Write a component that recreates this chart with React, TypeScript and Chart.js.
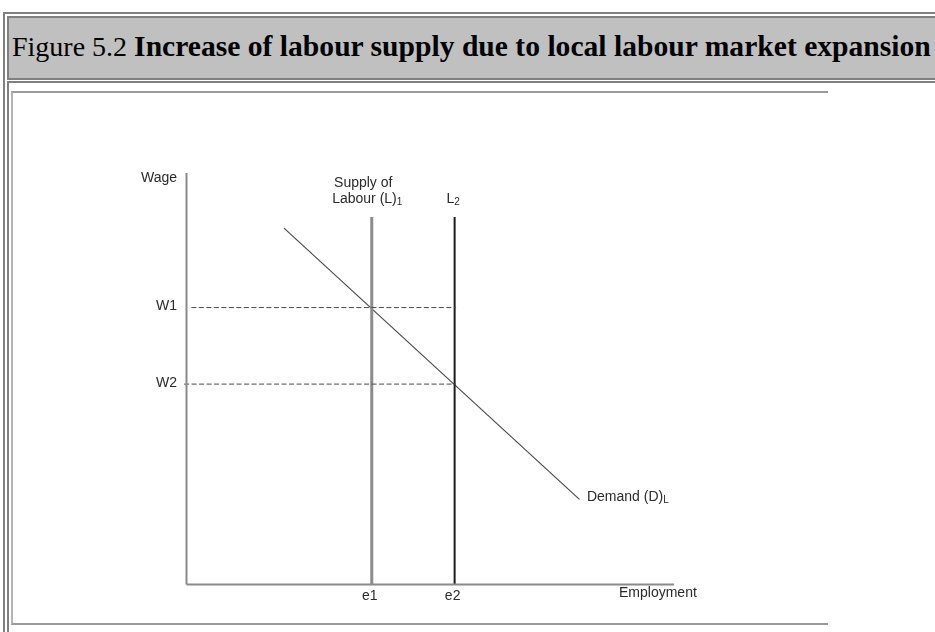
import React, { useEffect, useRef } from 'react';
import { Chart, registerables } from 'chart.js';

Chart.register(...registerables);

// ---- text ----
const TITLE_PREFIX = 'Figure 5.2 ';
const TITLE_BOLD = 'Increase of labour supply due to local labour market expansion';
const Y_AXIS_NAME = 'Wage';
const X_AXIS_NAME = 'Employment';
const SUPPLY_1_LINES = ['Supply of', 'Labour (L)'];
const SUPPLY_1_SUB = '1';
const SUPPLY_2_MAIN = 'L';
const SUPPLY_2_SUB = '2';
const DEMAND_MAIN = 'Demand (D)';
const DEMAND_SUB = 'L';

// ---- data (abstract units, axes run 0..100) ----
const axisRange = [0, 100];
const wageLabels = ['W1', 'W2'];
const wageLevels = [67.3, 48.7];
const wageDashStart = [1, -0.5];
const employmentLabels = ['e1', 'e2'];
const employmentLevels = [38, 55];
const supplyTop = 89.3;
const demandX = [20, 80.6];
const demandY = [86.6, 20.7];

const FONT = '"Liberation Sans", Arial, Helvetica, sans-serif';
const TEXT_COLOR = '#2a2a2a';

function drawWithSub(
  ctx: CanvasRenderingContext2D,
  main: string,
  sub: string,
  x: number,
  y: number,
  align: 'left' | 'center' | 'right'
) {
  ctx.font = `14px ${FONT}`;
  const wm = ctx.measureText(main).width;
  ctx.font = `10px ${FONT}`;
  const ws = ctx.measureText(sub).width;
  const total = wm + ws;
  let sx = x;
  if (align === 'center') sx = x - total / 2;
  if (align === 'right') sx = x - total;
  ctx.textAlign = 'left';
  ctx.font = `14px ${FONT}`;
  ctx.fillText(main, sx, y);
  ctx.font = `10px ${FONT}`;
  ctx.fillText(sub, sx + wm, y + 3);
}

const labelPlugin = {
  id: 'economicsLabels',
  afterDatasetsDraw(chart: any) {
    const ctx: CanvasRenderingContext2D = chart.ctx;
    const xs = chart.scales.x;
    const ys = chart.scales.y;
    const x0 = xs.getPixelForValue(axisRange[0]);
    const y0 = ys.getPixelForValue(axisRange[0]);
    const xEnd = xs.getPixelForValue(axisRange[1]);
    const yTop = ys.getPixelForValue(axisRange[1]);
    const pTop = ys.getPixelForValue(supplyTop);
    ctx.save();
    ctx.fillStyle = TEXT_COLOR;
    ctx.textBaseline = 'middle';
    ctx.font = `14px ${FONT}`;

    // y axis name
    ctx.textAlign = 'right';
    ctx.fillText(Y_AXIS_NAME, x0 - 9.5, yTop + 5);

    // wage levels
    wageLevels.forEach((w, i) => {
      ctx.textAlign = 'right';
      ctx.font = `14px ${FONT}`;
      ctx.fillText(wageLabels[i], x0 - 9.5, ys.getPixelForValue(w) - 1);
    });

    // employment levels
    employmentLevels.forEach((e, i) => {
      ctx.textAlign = 'center';
      ctx.font = `14px ${FONT}`;
      ctx.fillText(employmentLabels[i], xs.getPixelForValue(e) - 2, y0 + 11.5);
    });

    // x axis name
    ctx.textAlign = 'left';
    ctx.font = `14px ${FONT}`;
    ctx.fillText(X_AXIS_NAME, xEnd - 55, y0 + 8.5);

    // supply labels
    const pL1 = xs.getPixelForValue(employmentLevels[0]);
    const pL2 = xs.getPixelForValue(employmentLevels[1]);
    ctx.textAlign = 'center';
    ctx.fillText(SUPPLY_1_LINES[0], pL1 - 8.5, pTop - 34);
    drawWithSub(ctx, SUPPLY_1_LINES[1], SUPPLY_1_SUB, pL1 - 4.5, pTop - 18, 'center');
    drawWithSub(ctx, SUPPLY_2_MAIN, SUPPLY_2_SUB, pL2 - 1.5, pTop - 18, 'center');

    // demand label
    const dEx = xs.getPixelForValue(demandX[demandX.length - 1]);
    const dEy = ys.getPixelForValue(demandY[demandY.length - 1]);
    drawWithSub(ctx, DEMAND_MAIN, DEMAND_SUB, dEx + 7.5, dEy - 2.5, 'left');

    ctx.restore();
  },
};

function ChartCanvas() {
  const ref = useRef<HTMLCanvasElement | null>(null);
  useEffect(() => {
    if (!ref.current) return;
    const seg = (a: [number, number], b: [number, number]) => [
      { x: a[0], y: a[1] },
      { x: b[0], y: b[1] },
    ];
    const base = { showLine: true, pointRadius: 0, pointHoverRadius: 0, fill: false, clip: false as any, tension: 0 };
    const datasets: any[] = [
      // axes
      { ...base, label: 'y axis', data: seg([axisRange[0], axisRange[0]], [axisRange[0], axisRange[1]]), borderColor: '#8a8a8a', borderWidth: 2 },
      { ...base, label: 'x axis', data: seg([axisRange[0], axisRange[0]], [axisRange[1], axisRange[0]]), borderColor: '#8a8a8a', borderWidth: 2 },
      // wage dashed lines
      ...wageLevels.map((w, i) => ({
        ...base,
        label: wageLabels[i],
        data: seg([wageDashStart[i], w], [employmentLevels[1] + 0.3, w]),
        borderColor: '#4a4a4a',
        borderWidth: 1,
        borderDash: [5, 2.5],
      })),
      // supply L1
      { ...base, label: 'Supply L1', data: seg([employmentLevels[0], axisRange[0]], [employmentLevels[0], supplyTop]), borderColor: '#8c8c8c', borderWidth: 3 },
      // supply L2
      { ...base, label: 'Supply L2', data: seg([employmentLevels[1], axisRange[0]], [employmentLevels[1], supplyTop]), borderColor: '#1e1e1e', borderWidth: 2 },
      // demand
      { ...base, label: 'Demand', data: demandX.map((x, i) => ({ x, y: demandY[i] })), borderColor: '#444', borderWidth: 1.1 },
    ];
    const chart = new Chart(ref.current, {
      type: 'scatter',
      data: { datasets },
      options: {
        responsive: false,
        animation: false,
        devicePixelRatio: 1,
        layout: { padding: { left: 173.5, top: 80, right: 154, bottom: 38.5 } },
        scales: {
          x: { type: 'linear', min: axisRange[0], max: axisRange[1], display: false },
          y: { type: 'linear', min: axisRange[0], max: axisRange[1], display: false },
        },
        plugins: { legend: { display: false }, tooltip: { enabled: false }, title: { display: false } },
        events: [],
      } as any,
      plugins: [labelPlugin],
    });
    return () => chart.destroy();
  }, []);
  return (
    <canvas
      ref={ref}
      width={815}
      height={530}
      style={{ position: 'absolute', left: 13, top: 93, width: 815, height: 530, display: 'block' }}
    />
  );
}

export default function App() {
  const grey = '#808080';
  return (
    <div style={{ position: 'absolute', left: 0, top: 0, width: 935, height: 632, overflow: 'hidden', background: '#fff' }}>
      {/* outer table border */}
      <div style={{ position: 'absolute', left: 3, top: 12, width: 1000, height: 700, borderLeft: `2px solid ${grey}`, borderTop: `2px solid ${grey}` }} />
      {/* header cell */}
      <div style={{ position: 'absolute', left: 7, top: 16, width: 1000, height: 60, border: `2px solid ${grey}`, background: '#c0c0c0' }} />
      <div
        style={{
          position: 'absolute',
          left: 12,
          top: 30,
          whiteSpace: 'nowrap',
          fontFamily: '"Liberation Serif", "Times New Roman", Times, serif',
          fontSize: 28,
          lineHeight: '32px',
          color: '#000',
        }}
      >
        {TITLE_PREFIX}
        <b style={{ fontSize: 29.6 }}>{TITLE_BOLD}</b>
      </div>
      {/* chart cell */}
      <div style={{ position: 'absolute', left: 7, top: 81, width: 1000, height: 700, borderLeft: `2px solid ${grey}`, borderTop: `2px solid ${grey}` }} />
      {/* image frame */}
      <div
        style={{
          position: 'absolute',
          left: 11,
          top: 91,
          width: 817,
          height: 534,
          boxSizing: 'border-box',
          borderTop: '2px solid #9a9a9a',
          borderBottom: '2px solid #9a9a9a',
          borderLeft: '2px solid #b4b4b4',
        }}
      />
      <ChartCanvas />
    </div>
  );
}
